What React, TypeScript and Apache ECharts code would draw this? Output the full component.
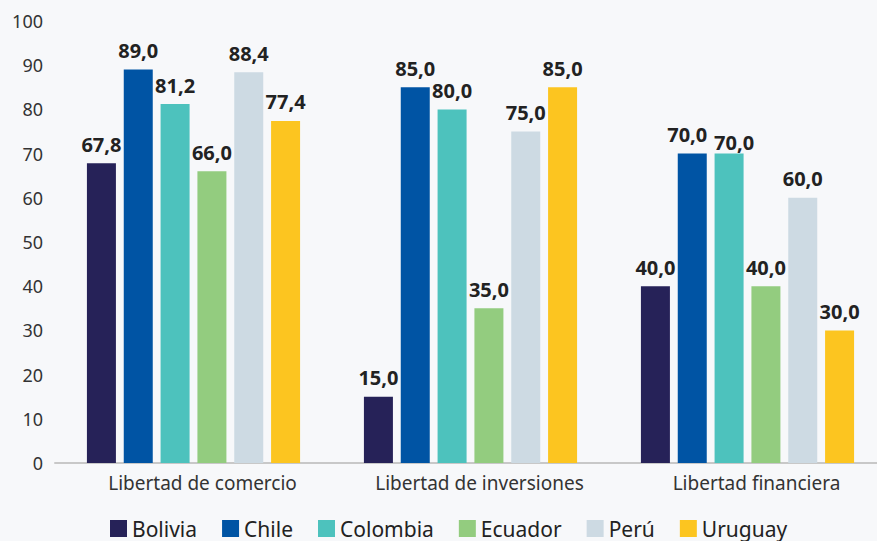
import React, { useEffect, useRef } from "react";
import * as echarts from "echarts";

const categories = ["Libertad de comercio", "Libertad de inversiones", "Libertad financiera"];
const countries = ["Bolivia", "Chile", "Colombia", "Ecuador", "Perú", "Uruguay"];
const colors = ["#262258", "#0054a4", "#4dc2bd", "#93cc7f", "#cddae3", "#fcc520"];
const bolivia = [67.8, 15.0, 40.0];
const chile = [89.0, 85.0, 70.0];
const colombia = [81.2, 80.0, 70.0];
const ecuador = [66.0, 35.0, 40.0];
const peru = [88.4, 75.0, 60.0];
const uruguay = [77.4, 85.0, 30.0];
const seriesValues = [bolivia, chile, colombia, ecuador, peru, uruguay];

const FONT = "'Noto Sans', 'Open Sans', sans-serif";

export default function App() {
  const ref = useRef<HTMLDivElement>(null);
  useEffect(() => {
    if (!ref.current) return;
    const chart = echarts.init(ref.current, null, { renderer: "svg" });
    chart.setOption({
      animation: false,
      backgroundColor: "#f7f8fa",
      textStyle: { fontFamily: FONT },
      grid: { left: 55, top: 21, bottom: 78, right: -9, containLabel: false, outerBoundsMode: "none" },
      legend: {
        top: 513,
        left: 105,
        icon: "rect",
        itemWidth: 17,
        itemHeight: 17,
        itemGap: 25,
        itemTextGap: 6,
        textStyle: { fontSize: 21, color: "#222", fontFamily: FONT },
        data: countries,
      },
      xAxis: {
        type: "category",
        data: categories,
        axisLine: { lineStyle: { color: "#c8c8c8", width: 2 } },
        axisTick: { show: false },
        axisLabel: { fontSize: 19, color: "#333", margin: 10, padding: [0, 0, 0, 18], fontFamily: FONT },
      },
      yAxis: {
        type: "value",
        min: 0,
        max: 100,
        interval: 10,
        splitLine: { show: false },
        axisLine: { show: false },
        axisTick: { show: false },
        axisLabel: { fontSize: 18, color: "#333", margin: 12, fontFamily: FONT },
      },
      series: countries.map((name, i) => ({
        name,
        type: "bar",
        data: seriesValues[i],
        barWidth: 29,
        barGap: "27%",
        itemStyle: { color: colors[i] },
        labelLayout: (p: any) => {
          if (name === "Colombia" && p.dataIndex === 2) return { dx: 5, dy: 8 };
          if (name === "Chile" && p.dataIndex === 2) return { dx: -5 };
          return {};
        },
        label: {
          show: true,
          position: "top",
          distance: 9,
          fontSize: 20,
          fontWeight: "bold",
          color: "#222",
          fontFamily: FONT,
          formatter: (p: any) => Number(p.value).toFixed(1).replace(".", ","),
        },
      })),
    });
    return () => chart.dispose();
  }, []);
  return <div ref={ref} style={{ width: 877, height: 541, position: "absolute", left: 0, top: 0 }} />;
}
